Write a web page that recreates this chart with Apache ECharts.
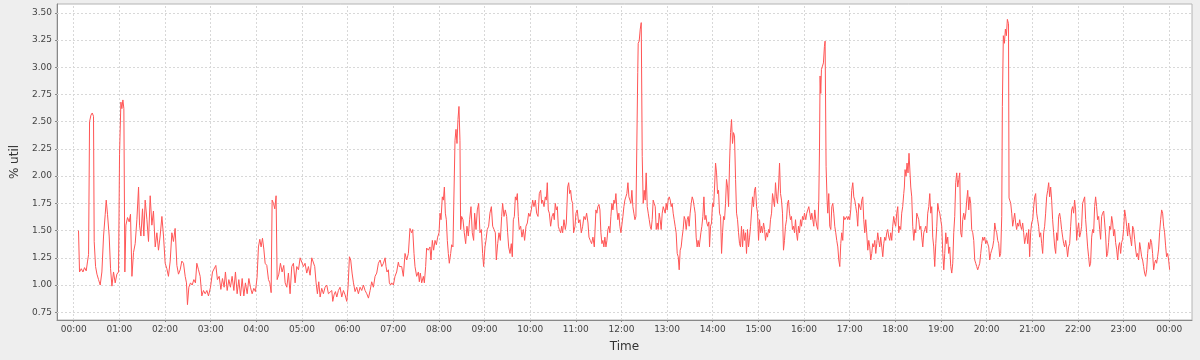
<!DOCTYPE html>
<html>
<head>
<meta charset="utf-8">
<script src="https://cdn.jsdelivr.net/npm/echarts@6/dist/echarts.min.js"></script>
<style>
html,body{margin:0;padding:0;background:#eeeeee;}
#chart{width:1200px;height:360px;}
</style>
</head>
<body>
<div id="chart"></div>
<script>
// sample time in minutes after 00:00
const sampleMinute = [
6.3,7.6,9.9,12.1,14.2,16.4,18.2,19.5,20.8,22.6,24.3,26.0,26.9,28.7,30.5,32.6,34.8,37.0,39.2,41.4,42.7,44.4,46.6,48.4,50.2,52.3,54.5,56.7,58.9,60.2,62.0,63.3,64.6,65.9,67.2,68.6,70.7,72.9,74.6,76.5,78.6,80.8,83.0,85.2,86.5,88.3,90.4,92.2,93.9,96.2,98.3,100.5,102.7,104.8,107.1,109.3,111.4,113.6,115.9,118.0,120.2,122.4,124.5,126.8,129.0,131.1,133.3,135.6,137.7,
139.9,142.1,144.3,146.5,148.2,149.5,151.3,153.5,155.7,157.9,160.0,161.8,164.0,166.2,168.4,170.5,172.8,175.0,177.1,179.8,182.4,185.0,186.8,188.9,191.2,193.4,195.5,197.7,199.4,201.7,203.9,206.0,208.2,210.5,212.6,214.8,217.0,219.2,221.4,223.6,225.7,228.0,230.2,232.3,234.5,236.7,238.8,241.0,242.8,244.6,246.3,248.1,249.9,251.6,253.8,256.0,257.8,259.5,260.8,262.6,264.3,266.0,267.4,269.6,271.7,273.9,276.1,
277.9,280.1,282.2,284.4,286.6,288.8,291.0,293.2,295.4,297.6,299.8,302.0,304.1,306.3,308.5,310.7,312.9,315.1,316.8,318.6,320.3,322.1,323.9,326.0,328.2,330.4,332.6,334.8,337.0,339.2,340.5,342.2,344.0,345.8,347.9,350.1,352.3,354.5,356.7,358.9,360.6,362.4,364.1,365.9,367.7,369.8,372.0,374.2,376.4,378.6,380.8,383.0,385.2,387.4,389.6,391.7,393.9,396.1,398.3,400.5,402.7,404.9,407.1,409.3,
410.5,411.8,413.6,414.9,416.6,418.0,420.2,422.3,424.5,426.7,428.0,429.8,431.1,433.3,435.5,437.7,439.9,442.0,444.2,445.6,447.3,448.6,450.8,453.0,454.3,455.6,457.4,459.6,460.9,462.6,463.9,466.1,468.3,469.6,471.4,473.1,474.9,476.7,478.4,480.2,481.5,482.8,484.5,485.9,487.2,488.5,489.8,491.1,492.4,493.7,495.5,496.8,498.5,499.9,501.2,502.5,503.8,505.1,506.4,507.7,508.6,509.9,511.7,513.4,515.2,516.9,518.7,520.4,522.2,523.9,525.7,527.0,528.8,530.5,532.3,534.0,535.8,537.5,538.8,540.6,541.9,543.6,545.4,547.1,
549.0,550.7,552.5,554.2,555.5,557.3,559.0,560.8,562.5,563.8,565.6,567.3,569.1,570.4,571.7,573.5,575.2,576.5,577.9,579.2,580.5,581.8,583.1,584.4,585.7,587.5,589.2,591.0,592.7,594.5,596.3,598.0,599.8,601.5,603.3,605.0,606.8,608.5,610.3,612.0,613.8,615.1,616.4,618.2,619.9,621.2,622.5,623.8,625.2,626.9,628.7,630.4,631.7,633.0,634.4,635.7,637.0,638.3,640.1,641.4,642.7,644.4,646.2,647.5,649.3,650.6,651.9,653.2,654.5,655.8,657.1,658.9,660.2,661.9,663.7,665.5,667.2,669.0,670.7,672.5,674.2,676.0,677.3,679.0,680.8,682.5,684.3,
686.4,687.7,689.0,690.4,691.7,693.0,694.3,695.6,696.9,698.2,699.6,700.9,702.2,703.5,704.8,706.1,707.4,708.8,710.1,711.4,712.7,714.0,715.3,716.6,717.9,719.3,720.6,721.9,723.2,724.5,725.8,727.1,728.5,729.8,731.1,732.4,733.7,735.0,736.3,737.7,739.0,740.3,741.4,742.0,743.3,744.7,746.0,746.9,747.3,748.6,749.9,751.2,752.5,753.9,755.2,756.5,757.8,759.1,760.4,761.7,763.0,764.4,765.7,767.0,768.3,769.6,770.9,772.2,773.6,774.9,776.2,777.5,778.8,780.1,781.4,782.8,784.1,785.4,786.7,788.0,789.3,790.6,791.9,793.3,794.6,795.9,797.2,798.5,799.8,801.1,802.5,803.8,805.1,806.4,807.7,809.0,810.3,811.7,813.0,814.3,815.6,816.9,818.2,819.5,820.8,822.2,
824.4,825.7,827.0,828.4,829.7,831.0,832.3,833.6,834.9,835.8,837.1,838.4,839.7,841.1,842.4,843.7,845.0,846.3,847.6,848.9,850.3,851.6,852.9,854.2,855.5,856.8,858.1,859.5,860.8,862.1,863.4,864.7,866.0,867.3,868.6,870.0,871.3,872.6,873.9,875.2,876.5,877.8,879.2,880.5,881.8,883.1,884.4,885.7,887.0,888.4,889.7,891.0,892.3,893.6,894.9,896.2,897.6,898.9,900.2,901.5,902.8,904.1,905.4,906.8,908.1,909.4,910.7,912.0,913.3,914.6,915.9,917.3,918.6,919.9,921.2,922.5,923.8,925.1,926.5,927.8,929.1,930.4,931.7,933.0,934.3,935.6,937.0,938.3,939.6,940.9,942.2,943.5,944.8,946.2,947.5,948.8,950.1,951.4,952.7,954.0,955.4,956.7,958.0,959.3,960.6,
962.3,963.6,964.9,966.3,967.6,968.9,970.2,971.5,972.8,974.1,975.5,976.8,978.1,979.4,980.3,981.1,982.0,982.9,984.2,985.5,986.8,987.7,989.0,990.3,991.2,992.5,993.8,995.2,996.5,997.8,999.1,1000.4,1001.7,1003.0,1004.4,1005.7,1007.0,1008.3,1009.6,1010.9,1012.2,1013.6,1014.9,1016.2,1017.5,1018.8,1020.1,1021.4,1022.7,1024.1,1025.4,1026.7,1028.0,1029.3,1030.6,1031.9,1033.3,1034.6,1035.9,1037.2,1038.5,1039.8,1041.1,1042.4,1043.8,1045.1,1046.4,1047.7,1049.0,1050.3,1051.6,1053.0,1054.3,1055.6,1056.9,1058.2,1059.5,1060.8,1062.2,1063.5,1064.8,1066.1,1067.4,1068.7,1070.0,1071.4,1072.7,1074.0,1075.3,1076.6,1077.9,1079.2,1080.5,1081.9,1083.2,1084.5,1085.8,1087.1,1088.4,1089.7,1091.1,1091.9,1092.8,1094.1,1095.4,1096.7,1098.0,
1100.3,1101.6,1102.9,1104.3,1105.6,1106.9,1108.2,1109.5,1110.8,1112.1,1113.5,1114.8,1116.1,1117.4,1118.7,1120.0,1121.3,1122.6,1124.0,1125.3,1126.6,1127.9,1129.2,1130.5,1131.8,1133.2,1134.5,1135.8,1137.1,1138.4,1139.7,1141.0,1142.4,1143.7,1145.0,1146.3,1147.6,1148.9,1150.2,1151.5,1152.9,1154.2,1155.5,1156.8,1158.1,1159.4,1160.7,1162.1,1163.4,1164.7,1166.0,1167.3,1168.6,1169.9,1171.3,1172.6,1173.9,1175.2,1176.5,1177.8,1179.1,1180.4,1181.8,1183.1,1184.4,1185.7,1187.0,1188.3,1189.6,1191.0,1192.3,1193.6,1194.9,1196.2,1197.5,1198.8,1200.2,1201.5,1202.8,1204.1,1205.4,1206.7,1208.0,1209.4,1210.7,1212.0,1213.3,1214.6,1215.9,1217.2,1218.5,1219.9,1220.7,1222.0,1223.4,1224.7,1226.0,1227.3,1228.2,1228.8,1229.5,1230.4,1231.7,1233.0,1234.3,1235.6,1236.9,
1238.2,1239.5,1240.8,1242.2,1243.5,1244.8,1246.1,1247.4,1248.7,1250.0,1251.4,1252.7,1254.0,1255.3,1256.6,1257.9,1259.2,1260.6,1261.9,1263.2,1264.5,1265.8,1267.1,1268.4,1269.7,1271.1,1272.4,1273.7,1275.0,1276.3,1277.6,1278.9,1280.3,1281.6,1282.9,1284.2,1285.5,1286.8,1288.1,1289.5,1290.8,1292.1,1293.4,1294.7,1296.0,1297.3,1298.6,1300.0,1301.3,1302.6,1303.9,1305.2,1306.5,1307.8,1309.2,1310.5,1311.8,1313.1,1314.4,1315.7,1317.0,1318.4,1319.7,1321.0,1322.3,1323.6,1324.9,1326.2,1327.5,1328.9,1330.2,1331.5,1332.8,1334.1,1335.4,1336.7,1338.1,1339.4,1340.7,1342.0,1343.3,1344.6,1345.9,1347.3,
1348.6,1349.9,1351.2,1352.5,1353.9,1355.2,1356.5,1357.8,1359.1,1360.4,1361.7,1363.1,1364.4,1365.7,1367.0,1368.3,1369.6,1370.9,1372.3,1373.6,1374.9,1376.2,1377.5,1378.8,1380.1,1381.5,1382.8,1384.1,1385.4,1386.7,1388.0,1389.3,1390.6,1392.0,1393.3,1394.6,1395.9,1397.2,1398.5,1399.8,1401.2,1402.5,1403.8,1405.1,1406.4,1407.7,1409.0,1410.4,1411.7,1413.0,1414.3,1415.6,1416.9,1418.2,1419.6,1420.9,1422.2,1423.5,1424.8,1426.1,1427.4,1428.8,1430.1,1431.4,1432.7,1434.0,1435.3,1436.6,1438.0,1439.3,1440.6
];

// % util at each sample
const utilPercent = [
1.50,1.12,1.15,1.12,1.16,1.13,1.22,1.28,2.50,2.56,2.58,2.55,1.40,1.17,1.10,1.05,1.00,1.12,1.45,1.65,1.78,1.65,1.45,1.15,0.99,1.12,1.02,1.10,1.12,2.20,2.68,2.62,2.70,2.62,1.12,1.55,1.62,1.58,1.65,1.08,1.30,1.38,1.60,1.90,1.55,1.45,1.70,1.45,1.78,1.60,1.40,1.82,1.55,1.68,1.35,1.48,1.32,1.45,1.63,1.45,1.20,1.15,1.08,1.22,1.48,1.40,1.52,1.18,1.10,
1.14,1.22,1.20,1.08,1.02,0.82,0.98,1.02,1.00,1.05,1.02,1.20,1.14,1.08,0.90,0.95,0.92,0.95,0.90,0.98,1.12,1.12,1.18,1.05,1.08,0.96,1.06,0.98,1.12,0.95,1.05,0.98,1.08,0.95,1.12,0.92,1.05,0.90,1.06,0.90,1.02,0.92,1.06,0.98,0.92,0.97,0.94,1.07,1.35,1.42,1.35,1.43,1.33,1.20,1.18,1.05,1.02,0.93,1.78,1.75,1.70,1.82,1.05,1.10,1.20,1.12,1.18,
1.02,0.98,1.11,0.92,1.17,1.20,1.02,1.17,1.14,1.25,1.26,1.17,1.20,1.11,1.17,1.09,1.25,1.26,1.17,1.02,0.92,1.03,0.89,0.97,0.92,0.98,1.00,0.92,0.91,0.95,0.85,0.91,0.94,0.89,0.95,0.98,0.89,0.95,0.91,0.85,0.98,1.26,1.23,1.11,1.02,0.94,0.98,0.92,0.98,0.95,1.00,0.95,0.92,0.88,0.95,1.03,0.98,1.08,1.11,1.20,1.23,1.17,1.20,1.25,
1.17,1.12,1.14,1.02,1.00,1.02,1.00,1.08,1.12,1.21,1.17,1.18,1.17,1.08,1.29,1.23,1.29,1.52,1.48,1.51,1.29,1.17,1.08,1.12,1.03,1.11,1.02,1.08,1.02,1.17,1.34,1.32,1.35,1.23,1.41,1.32,1.41,1.37,1.44,1.48,1.66,1.60,1.81,1.78,1.90,1.66,1.60,1.41,1.29,1.20,1.29,1.37,1.35,1.35,2.33,2.43,2.30,2.52,2.64,2.33,1.51,1.63,1.60,1.48,1.38,1.54,1.45,1.60,1.72,1.48,1.41,1.66,1.51,1.69,1.75,1.48,1.51,1.29,1.17,1.35,1.41,1.51,1.54,1.66,
1.72,1.54,1.51,1.48,1.23,1.38,1.48,1.41,1.63,1.75,1.63,1.69,1.63,1.48,1.35,1.29,1.38,1.26,1.60,1.63,1.81,1.78,1.84,1.63,1.51,1.54,1.44,1.51,1.41,1.54,1.57,1.66,1.63,1.69,1.78,1.72,1.78,1.66,1.63,1.84,1.87,1.75,1.78,1.72,1.81,1.78,1.94,1.69,1.66,1.54,1.63,1.66,1.60,1.75,1.69,1.72,1.54,1.51,1.48,1.54,1.48,1.60,1.51,1.57,1.90,1.94,1.84,1.87,1.78,1.75,1.48,1.54,1.66,1.69,1.57,1.60,1.48,1.54,1.63,1.60,1.66,1.57,1.44,1.41,1.38,1.44,1.35,
1.69,1.66,1.72,1.74,1.69,1.48,1.38,1.41,1.35,1.44,1.35,1.41,1.51,1.54,1.48,1.63,1.75,1.69,1.78,1.75,1.84,1.69,1.60,1.66,1.54,1.48,1.48,1.63,1.72,1.78,1.81,1.84,1.94,1.81,1.78,1.75,1.87,1.72,1.66,1.60,1.63,1.62,2.95,3.22,3.24,3.35,3.41,3.41,2.18,1.75,1.87,1.78,2.03,1.72,1.66,1.60,1.54,1.51,1.60,1.78,1.75,1.72,1.51,1.57,1.51,1.66,1.60,1.51,1.66,1.72,1.69,1.66,1.75,1.69,1.78,1.81,1.78,1.72,1.75,1.66,1.60,1.54,1.48,1.29,1.26,1.14,1.32,1.35,1.44,1.51,1.63,1.60,1.51,1.60,1.63,1.54,1.66,1.75,1.81,1.78,1.72,1.66,1.44,1.35,1.41,1.35,
1.48,1.54,1.63,1.81,1.60,1.64,1.57,1.54,1.58,1.35,1.54,1.57,1.75,1.72,1.90,2.12,2.03,1.84,1.87,1.66,1.63,1.29,1.48,1.63,1.60,1.75,1.97,1.90,1.72,2.12,2.40,2.52,2.30,2.40,2.37,1.97,1.66,1.60,1.48,1.38,1.35,1.54,1.35,1.51,1.41,1.48,1.29,1.51,1.35,1.44,1.54,1.54,1.81,1.72,1.87,1.90,1.72,1.66,1.41,1.60,1.48,1.54,1.48,1.57,1.51,1.41,1.48,1.44,1.51,1.48,1.60,1.66,1.84,1.78,1.72,1.94,1.81,1.75,1.90,2.12,1.84,1.78,1.66,1.32,1.41,1.54,1.60,1.75,1.78,1.66,1.60,1.63,1.51,1.54,1.48,1.60,1.48,1.41,1.54,1.48,1.60,1.54,1.63,1.60,1.66,
1.60,1.66,1.69,1.72,1.66,1.60,1.66,1.60,1.54,1.69,1.60,1.54,1.51,1.78,2.24,2.92,2.76,2.98,3.01,3.04,3.19,3.24,2.09,1.78,1.66,1.84,1.54,1.51,1.72,1.75,1.66,1.54,1.48,1.41,1.35,1.23,1.17,1.38,1.48,1.41,1.63,1.60,1.60,1.63,1.60,1.63,1.60,1.69,1.87,1.94,1.81,1.78,1.72,1.66,1.54,1.75,1.75,1.69,1.78,1.81,1.60,1.48,1.60,1.48,1.32,1.41,1.35,1.23,1.29,1.38,1.35,1.41,1.29,1.38,1.48,1.41,1.35,1.44,1.35,1.26,1.38,1.44,1.41,1.48,1.51,1.44,1.41,1.48,1.41,1.54,1.63,1.57,1.54,1.66,1.72,1.48,1.54,1.51,1.66,1.72,1.84,1.90,2.06,2.00,2.12,2.03,2.21,
1.90,1.81,1.54,1.41,1.51,1.48,1.66,1.63,1.60,1.51,1.54,1.44,1.35,1.48,1.51,1.54,1.48,1.66,1.72,1.84,1.66,1.72,1.44,1.35,1.17,1.38,1.54,1.75,1.69,1.66,1.60,1.54,1.29,1.14,1.29,1.48,1.38,1.44,1.29,1.35,1.17,1.11,1.20,1.48,1.63,1.94,2.03,1.90,1.97,2.03,1.48,1.44,1.60,1.66,1.60,1.66,1.78,1.87,1.69,1.81,1.75,1.51,1.48,1.41,1.23,1.20,1.17,1.14,1.17,1.20,1.29,1.38,1.44,1.41,1.44,1.38,1.41,1.38,1.35,1.23,1.29,1.32,1.35,1.41,1.57,1.51,1.48,1.41,1.38,1.26,1.29,1.63,2.64,3.29,3.22,3.35,3.29,3.44,3.45,3.40,1.80,1.78,1.75,1.66,1.54,1.60,1.66,
1.57,1.51,1.57,1.54,1.60,1.54,1.51,1.57,1.48,1.38,1.44,1.48,1.38,1.51,1.26,1.48,1.57,1.60,1.72,1.81,1.84,1.66,1.60,1.54,1.44,1.48,1.38,1.29,1.48,1.54,1.66,1.81,1.87,1.94,1.81,1.90,1.78,1.60,1.48,1.35,1.29,1.48,1.41,1.63,1.66,1.60,1.51,1.44,1.38,1.35,1.41,1.35,1.26,1.35,1.38,1.54,1.69,1.72,1.66,1.78,1.69,1.41,1.51,1.57,1.44,1.48,1.54,1.75,1.78,1.81,1.60,1.48,1.35,1.26,1.17,1.20,1.44,1.51,1.48,1.72,1.81,1.72,1.60,1.63,
1.51,1.42,1.63,1.66,1.68,1.57,1.45,1.26,1.29,1.39,1.54,1.51,1.63,1.57,1.45,1.51,1.39,1.33,1.23,1.36,1.39,1.29,1.39,1.42,1.51,1.69,1.63,1.54,1.45,1.57,1.48,1.42,1.36,1.54,1.51,1.42,1.33,1.26,1.29,1.23,1.39,1.33,1.26,1.23,1.17,1.11,1.08,1.14,1.29,1.39,1.33,1.42,1.39,1.29,1.14,1.20,1.23,1.20,1.26,1.33,1.48,1.60,1.69,1.66,1.54,1.48,1.36,1.26,1.29,1.23,1.14
];

const hourTicks = [0,60,120,180,240,300,360,420,480,540,600,660,720,780,840,900,960,1020,1080,1140,1200,1260,1320,1380,1440];
const utilTicks = [0.75,1.00,1.25,1.50,1.75,2.00,2.25,2.50,2.75,3.00,3.25,3.50];

const seriesData = sampleMinute.map((m, i) => [m, utilPercent[i]]);
const gridLineData = hourTicks.map(v => ({ xAxis: v })).concat(utilTicks.map(v => ({ yAxis: v })));

function hhmm(v) {
  const total = Math.round(v);
  const h = Math.floor(total / 60) % 24;
  const m = total % 60;
  return String(h).padStart(2, '0') + ':' + String(m).padStart(2, '0');
}

const chart = echarts.init(document.getElementById('chart'), null, { renderer: 'canvas' });
chart.setOption({
  animation: false,
  backgroundColor: '#eeeeee',
  textStyle: { fontFamily: 'DejaVu Sans' },
  grid: {
    left: 57, right: 8, top: 4, bottom: 40,
    show: true, backgroundColor: '#ffffff', borderColor: '#b4b4b4', borderWidth: 1
  },
  xAxis: {
    type: 'value', min: -22, max: 1470,
    name: 'Time', nameLocation: 'middle', nameGap: 21,
    nameTextStyle: { fontSize: 12, color: '#333333', fontFamily: 'DejaVu Sans' },
    axisLine: { show: true, onZero: false, lineStyle: { color: '#888888', width: 1 } },
    axisTick: { show: true, length: 2, customValues: hourTicks, lineStyle: { color: '#888888' } },
    axisLabel: { customValues: hourTicks, formatter: hhmm, fontSize: 9, color: '#444444', margin: 5, fontFamily: 'DejaVu Sans' },
    splitLine: { show: false }
  },
  yAxis: {
    type: 'value', min: 0.679, max: 3.581,
    name: '% util', nameLocation: 'middle', nameGap: 30,
    nameTextStyle: { fontSize: 12, color: '#333333', fontFamily: 'DejaVu Sans' },
    axisLine: { show: true, onZero: false, lineStyle: { color: '#888888', width: 1 } },
    axisTick: { show: true, length: 2, customValues: utilTicks, lineStyle: { color: '#888888' } },
    axisLabel: { customValues: utilTicks, formatter: v => Number(v).toFixed(2), fontSize: 9, color: '#444444', margin: 5, fontFamily: 'DejaVu Sans' },
    splitLine: { show: false }
  },
  series: [{
    name: '% util',
    type: 'line',
    data: seriesData,
    showSymbol: false,
    symbol: 'none',
    z: 3,
    lineStyle: { color: '#ff5555', width: 1 },
    itemStyle: { color: '#ff5555' },
    markLine: {
      silent: true,
      z: 1,
      symbol: 'none',
      animation: false,
      label: { show: false },
      emphasis: { disabled: true },
      lineStyle: { color: '#d8d8d8', width: 1, type: [2, 2] },
      data: gridLineData
    }
  }]
});
</script>
</body>
</html>
